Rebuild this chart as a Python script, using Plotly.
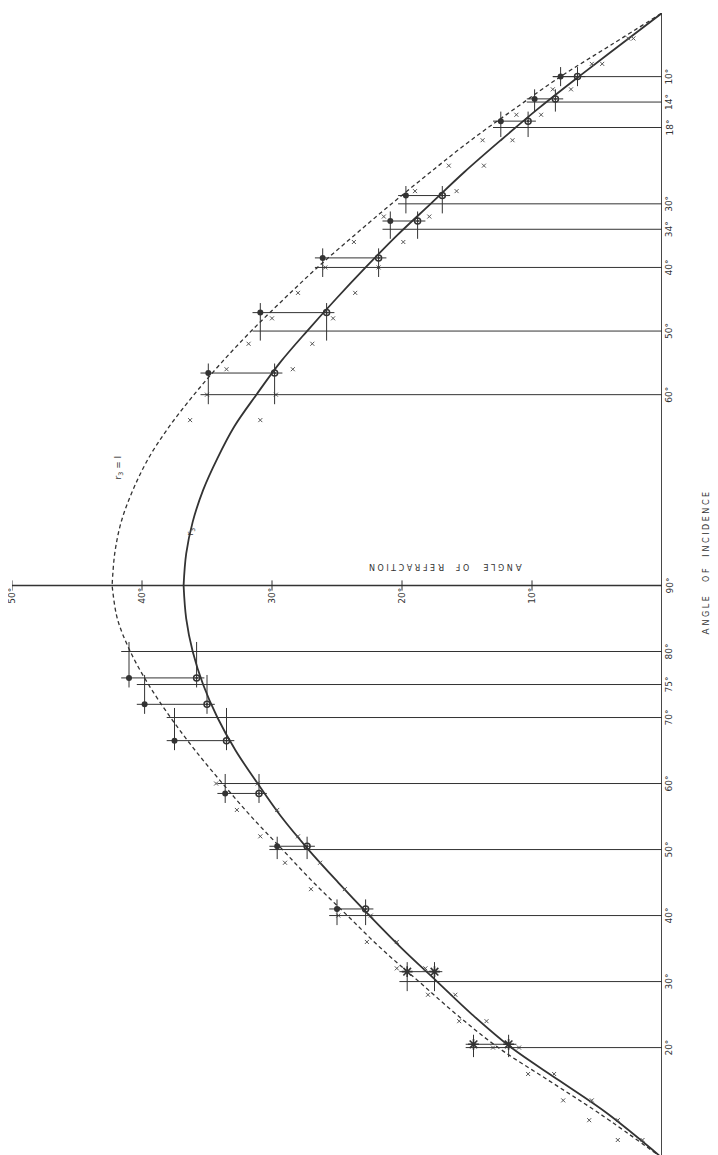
import plotly.graph_objects as go

# curve readings, second (upper) half: incidence (deg) -> refraction (deg)
inc_upper = [0, 5, 10, 15, 20, 25, 30, 35, 40, 45, 50, 55, 60, 65, 70, 75, 80, 85, 90]
solid_upper = [0, 3.2, 6.4, 9.5, 12.4, 15.2, 17.8, 20.4, 22.8, 25.1, 27.3, 29.4, 31.2, 32.9, 34.2, 35.3, 36.1, 36.6, 36.8]
dashed_upper = [0, 3.9, 7.8, 11.3, 14.7, 17.8, 20.8, 23.7, 26.5, 29.1, 31.6, 33.9, 36.0, 37.9, 39.5, 40.7, 41.6, 42.1, 42.3]

# curve readings, first (lower) half
inc_lower = [3.3, 10, 15, 20, 25, 30, 35, 40, 45, 50, 55, 60, 65, 70, 75, 80, 85, 90]
solid_lower = [0, 4.2, 7.9, 11.6, 14.6, 17.3, 20.0, 22.5, 24.9, 27.2, 29.3, 31.1, 32.8, 34.2, 35.3, 36.1, 36.6, 36.8]
dashed_lower = [0, 4.8, 8.7, 12.6, 15.8, 18.7, 21.6, 24.2, 26.8, 29.2, 31.6, 33.8, 35.9, 37.8, 39.5, 40.9, 41.9, 42.3]

# small computed marks beside the curves
marks_inc_up = [4, 8, 12, 16, 20, 24, 28, 32, 36, 40, 44, 48, 52, 56, 60, 64]
marks_a_upper = [2.6, 5.4, 8.4, 11.2, 13.8, 16.4, 19.0, 21.4, 23.7, 25.9, 28.0, 30.0, 31.8, 33.5, 35.0, 36.3]
marks_b_upper = [2.2, 4.6, 7.0, 9.3, 11.5, 13.7, 15.8, 17.9, 19.9, 21.8, 23.6, 25.3, 26.9, 28.4, 29.7, 30.9]
marks_inc_lo = [6, 9, 12, 16, 20, 24, 28, 32, 36, 40, 44, 48, 52, 56, 60]
marks_a_lower = [3.4, 5.6, 7.6, 10.3, 13.0, 15.6, 18.0, 20.4, 22.7, 24.9, 27.0, 29.0, 30.9, 32.7, 34.3]
marks_b_lower = [1.5, 3.4, 5.4, 8.3, 11.0, 13.5, 15.9, 18.2, 20.4, 22.4, 24.4, 26.3, 28.0, 29.6, 31.1]

# measured points, second (upper) half
up_tick = [10, 14, 18, 30, 34, 40, 50, 60]
up_inc = [10.0, 13.5, 17.0, 28.7, 32.7, 38.5, 47.1, 56.6]
up_dash = [7.8, 9.8, 12.4, 19.7, 20.9, 26.1, 30.9, 34.9]
up_solid = [6.5, 8.2, 10.3, 16.9, 18.8, 21.8, 25.8, 29.8]

# measured points, first (lower) half
lo_tick = [20, 30, 40, 50, 60, 70, 75, 80]
lo_inc = [20.5, 31.5, 41.0, 50.5, 58.5, 66.5, 72.0, 76.0]
lo_dash = [14.5, 19.6, 25.0, 29.6, 33.6, 37.5, 39.8, 41.0]
lo_solid = [11.8, 17.5, 22.8, 27.3, 31.0, 33.5, 35.0, 35.8]
lo_star = [True, True, False, False, False, False, False, False]

refr_ticks = [10, 20, 30, 40, 50]

INK = "#333333"
FONT = "DejaVu Sans"
LOWER_STRETCH = 6.6 / 6.36   # lower half of the sheet is drawn a little wider
PLOT_W = 650                 # width of plotting area in px (13 px per degree)


def pos_lo(i):
    return 90 - (90 - i) * LOWER_STRETCH


def pos_up(i):
    return 180 - i


def paper_x(px):
    # pixel column -> paper fraction, for texts to the right of the axis
    return (px - 4) / PLOT_W


fig = go.Figure()

fig.add_trace(go.Scatter(x=solid_lower + solid_upper[::-1],
                         y=[pos_lo(i) for i in inc_lower] + [pos_up(i) for i in inc_upper[::-1]],
                         mode="lines", line=dict(color=INK, width=1.8), line_shape="spline"))
fig.add_trace(go.Scatter(x=dashed_lower + dashed_upper[::-1],
                         y=[pos_lo(i) for i in inc_lower] + [pos_up(i) for i in inc_upper[::-1]],
                         mode="lines", line=dict(color=INK, width=1.3, dash="4px,3px"), line_shape="spline"))

# little x marks
fig.add_trace(go.Scatter(x=marks_a_upper + marks_b_upper + marks_a_lower + marks_b_lower,
                         y=[pos_up(i) for i in marks_inc_up] * 2 + [pos_lo(i) for i in marks_inc_lo] * 2,
                         mode="markers", marker=dict(symbol="x-thin", size=4, color="#555555",
                                                     line=dict(width=1, color="#555555"))))


def bracket(tick_pos, pt_pos, rd, rs):
    xs, ys = [], []
    xs += [0, rd + 0.6, None]
    ys += [tick_pos, tick_pos, None]
    xs += [rd + 0.6, rs - 0.6, None]
    ys += [pt_pos, pt_pos, None]
    lo, hi = sorted([tick_pos, pt_pos])
    for r in (rd, rs):
        xs += [r, r, None]
        ys += [lo - 1.5, hi + 1.5, None]
    return xs, ys


bx, by = [], []
for t, p, rd, rs in zip(up_tick, up_inc, up_dash, up_solid):
    xs, ys = bracket(pos_up(t), pos_up(p), rd, rs)
    bx += xs
    by += ys
for t, p, rd, rs in zip(lo_tick, lo_inc, lo_dash, lo_solid):
    xs, ys = bracket(pos_lo(t), pos_lo(p), rd, rs)
    bx += xs
    by += ys
fig.add_trace(go.Scatter(x=bx, y=by, mode="lines", line=dict(color=INK, width=1)))

lo_circ = [k for k, s in enumerate(lo_star) if not s]
lo_st = [k for k, s in enumerate(lo_star) if s]
fig.add_trace(go.Scatter(x=up_dash + [lo_dash[k] for k in lo_circ],
                         y=[pos_up(i) for i in up_inc] + [pos_lo(lo_inc[k]) for k in lo_circ],
                         mode="markers", marker=dict(symbol="circle", size=6, color=INK)))
fig.add_trace(go.Scatter(x=up_solid + [lo_solid[k] for k in lo_circ],
                         y=[pos_up(i) for i in up_inc] + [pos_lo(lo_inc[k]) for k in lo_circ],
                         mode="markers", marker=dict(symbol="circle-open-dot", size=6, color=INK, line=dict(width=1.5))))
fig.add_trace(go.Scatter(x=[lo_dash[k] for k in lo_st] + [lo_solid[k] for k in lo_st],
                         y=[pos_lo(lo_inc[k]) for k in lo_st] * 2,
                         mode="markers", marker=dict(symbol="asterisk-open", size=9, color=INK, line=dict(width=1.6, color=INK))))

# axes drawn by hand (picture is turned on its side)
fig.add_trace(go.Scatter(x=[0, 0], y=[0, 180], mode="lines", line=dict(color=INK, width=1.8)))
fig.add_trace(go.Scatter(x=[0, 50], y=[90, 90], mode="lines", line=dict(color=INK, width=1.4)))
tx, ty = [], []
for r in refr_ticks:
    tx += [r, r, None]
    ty += [89.2, 90.8, None]
fig.add_trace(go.Scatter(x=tx, y=ty, mode="lines", line=dict(color=INK, width=1)))

SP = "\u00a0"


def small_caps(words):
    out = []
    for w in words:
        big, small = (w[0], w[1:]) if len(w) > 2 else ("", w)
        out.append(big + SP + "<span style='font-size:8px'>" + SP.join(small) + "</span>")
    return (SP * 4).join(out)


ann = []
for t in up_tick:
    ann.append(dict(x=paper_x(668), xref="paper", y=pos_up(t), text=f"{t}°", textangle=-90))
for t in lo_tick:
    ann.append(dict(x=paper_x(668), xref="paper", y=pos_lo(t), text=f"{t}°", textangle=-90))
ann.append(dict(x=paper_x(668), xref="paper", y=90, text="90°", textangle=-90))
for r in refr_ticks:
    ann.append(dict(x=r, y=88.4, text=f"{r}°", textangle=-90))
ann.append(dict(x=16.7, y=93.0, text=small_caps(["ANGLE", "OF", "REFRACTION"]), textangle=180))
ann.append(dict(x=paper_x(705), xref="paper", y=93.6, text=small_caps(["ANGLE", "OF", "INCIDENCE"]),
                textangle=-90))
ann.append(dict(x=36.3, y=98.5, text="r<sub>3</sub>", textangle=-90))
ann.append(dict(x=41.8, y=108.5, text="r<sub>3</sub> = I", textangle=-90))
for a in ann:
    a.setdefault("font", dict(family=FONT, size=9, color=INK))
    a["showarrow"] = False

fig.update_layout(
    width=718, height=1155,
    margin=dict(l=4, r=64, t=5, b=5),
    paper_bgcolor="white", plot_bgcolor="white",
    showlegend=False,
    xaxis=dict(range=[50, 0], visible=False),
    yaxis=dict(range=[0, 180], visible=False),
    annotations=ann,
)

fig.write_html("out.html")
